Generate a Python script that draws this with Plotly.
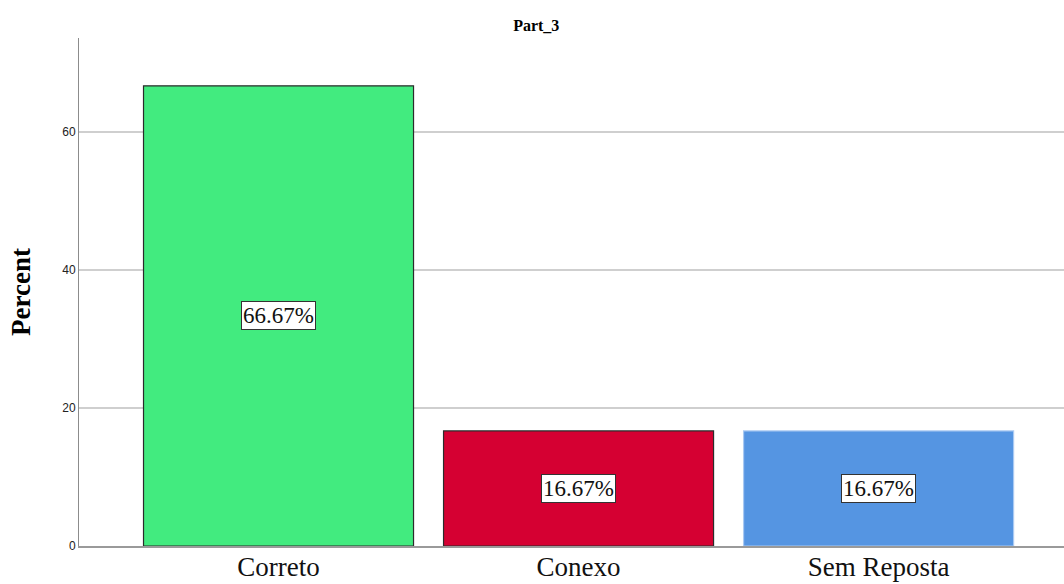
import plotly.graph_objects as go

categories = ["Correto", "Conexo", "Sem Reposta"]
percents = [66.67, 16.67, 16.67]
bar_colors = ["#42EB7F", "#D50032", "#5595E2"]
edge_colors = ["#2b2b2b", "#2b2b2b", "#a9c9f2"]
y_ticks = [0, 20, 40, 60]

fig = go.Figure()
fig.add_trace(go.Bar(
    x=list(range(len(categories))),
    y=percents,
    width=0.9,
    marker=dict(color=bar_colors, line=dict(color=edge_colors, width=1.2)),
    hoverinfo="skip",
))

# value labels boxed at mid-height of each bar
for i, v in enumerate(percents):
    fig.add_annotation(
        x=i, y=v / 2, text=f"{v:.2f}%", showarrow=False,
        font=dict(family="Liberation Serif", size=23, color="#111"),
        bgcolor="white", bordercolor="#333", borderwidth=1, borderpad=1,
    )

fig.update_layout(
    width=1064, height=584,
    margin=dict(l=79, r=0, t=38, b=38),
    paper_bgcolor="white", plot_bgcolor="white",
    showlegend=False,
    title=dict(text="<b>Part_3</b>", x=0.504, xanchor="center", y=0.957, yanchor="middle",
               font=dict(family="Liberation Serif", size=16, color="black")),
)
fig.update_xaxes(
    range=[-0.665, 2.618], automargin=False,
    tickmode="array", tickvals=list(range(len(categories))), ticktext=categories,
    tickfont=dict(family="Liberation Serif", size=27, color="#111"),
    ticklabelstandoff=-4,
    showline=True, linecolor="#9a9a9a", linewidth=2,
    showgrid=False, ticks="", ticklen=0, zeroline=False,
)
fig.update_yaxes(
    range=[0, 73.6], automargin=False,
    tickmode="array", tickvals=y_ticks, ticktext=[str(t) for t in y_ticks],
    tickfont=dict(family="Liberation Sans", size=12, color="#222"),
    ticks="outside", ticklen=0, tickcolor="white",
    showline=True, linecolor="#8c8c8c", linewidth=1,
    showgrid=True, gridcolor="#cfcfcf", gridwidth=1.5, zeroline=False,
    title=dict(text="<b>Percent</b>", standoff=23,
               font=dict(family="Liberation Serif", size=27, color="black")),
)

fig.write_html("out.html")
